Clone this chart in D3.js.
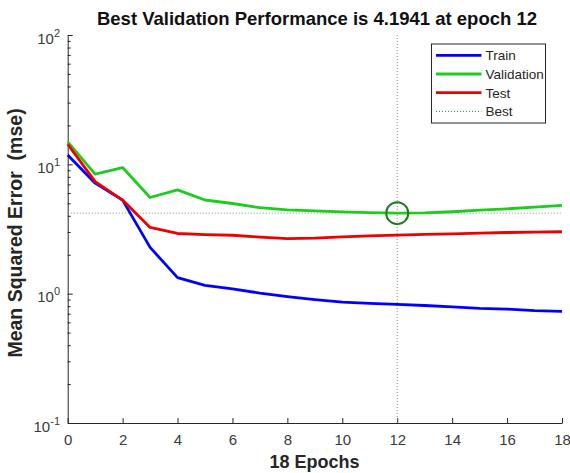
<!DOCTYPE html>
<html>
<head>
<meta charset="utf-8">
<script src="https://cdn.jsdelivr.net/npm/d3@7"></script>
<style>
  body { margin: 0; background: #fff; }
  svg { display: block; font-family: Arial, "Liberation Sans", sans-serif; }
</style>
</head>
<body>
<svg width="570" height="473"></svg>
<script>
// data
var epochs = [0, 1, 2, 3, 4, 5, 6, 7, 8, 9, 10, 11, 12, 13, 14, 15, 16, 17, 18]
var train = [11.8, 7.15, 5.29, 2.28, 1.33, 1.16, 1.09, 1.01, 0.95, 0.90, 0.86, 0.84, 0.826, 0.81, 0.79, 0.77, 0.76, 0.74, 0.73]
var validation = [14.9, 8.39, 9.44, 5.54, 6.35, 5.3, 4.98, 4.62, 4.44, 4.37, 4.29, 4.24, 4.1941, 4.22, 4.30, 4.42, 4.53, 4.67, 4.82]
var test = [14.3, 7.36, 5.29, 3.25, 2.92, 2.86, 2.83, 2.74, 2.66, 2.69, 2.75, 2.80, 2.84, 2.87, 2.90, 2.94, 2.97, 2.99, 3.01]
var bestEpoch = 12
var bestPerf = 4.1941
var xTicks = [0, 2, 4, 6, 8, 10, 12, 14, 16, 18]
var yExps = [-1, 0, 1, 2]
var seriesNames = ['Train', 'Validation', 'Test', 'Best']
var seriesColors = ['#0000ff', '#1ecc1e', '#ee0000', '#2a8a2a']

var svg = d3.select('svg')
var plotL = 67.7, plotR = 562, plotT = 35, plotB = 423
var ink = '#262626'
var tickInk = '#3a3a3a'

var x = d3.scaleLinear().domain([0, 18]).range([plotL, plotR])
var y = d3.scaleLog().domain([0.1, 100]).range([plotB, plotT])

// minor ticks on log axis
var minor = []
yExps.slice(0, 3).forEach(function(e) {
  for (var k = 2; k <= 9; k++) minor.push(k * Math.pow(10, e))
})

svg.append('g')
  .attr('transform', 'translate(' + plotL + ',0)')
  .call(d3.axisLeft(y).tickValues(minor).tickSizeInner(-3).tickSizeOuter(0).tickFormat(''))
  .call(function(g) { g.select('.domain').remove() })
  .selectAll('line').attr('stroke', ink)

var yAxis = svg.append('g')
  .attr('transform', 'translate(' + plotL + ',0)')
  .call(d3.axisLeft(y).tickValues(yExps.map(function(e) { return Math.pow(10, e) }))
    .tickSizeInner(-5).tickSizeOuter(0).tickFormat(''))
yAxis.select('.domain').attr('stroke', ink)
yAxis.selectAll('line').attr('stroke', ink)

// tick labels as 10^n
yExps.forEach(function(e) {
  var t = svg.append('text')
    .attr('x', 60).attr('y', y(Math.pow(10, e)) + 8.5)
    .attr('text-anchor', 'end')
    .attr('fill', tickInk)
    .style('font-size', '15px')
  t.append('tspan').text('10')
  t.append('tspan').attr('dy', -7).style('font-size', '11px').text(e)
})

var xAxis = svg.append('g')
  .attr('transform', 'translate(0,' + plotB + ')')
  .call(d3.axisBottom(x).tickValues(xTicks).tickSizeInner(-5).tickSizeOuter(0).tickPadding(11))
xAxis.select('.domain').attr('stroke', ink)
xAxis.selectAll('line').attr('stroke', ink)
xAxis.selectAll('text').attr('fill', tickInk).style('font-size', '15px').style('font-family', 'Arial, "Liberation Sans", sans-serif')

// best lines
svg.append('line')
  .attr('x1', x(bestEpoch)).attr('x2', x(bestEpoch))
  .attr('y1', plotT).attr('y2', plotB)
  .attr('stroke', '#8a8a8a').attr('stroke-width', 1).attr('stroke-dasharray', '1,2')
svg.append('line')
  .attr('x1', plotL).attr('x2', plotR)
  .attr('y1', y(bestPerf)).attr('y2', y(bestPerf))
  .attr('stroke', '#6a9a6a').attr('stroke-width', 1).attr('stroke-dasharray', '1,2')

var line = d3.line()
  .x(function(d, i) { return x(epochs[i]) })
  .y(function(d) { return y(d) })

;[train, validation, test].forEach(function(s, i) {
  svg.append('path')
    .datum(s)
    .attr('d', line)
    .attr('fill', 'none')
    .attr('stroke', seriesColors[i])
    .attr('stroke-width', 2.8)
    .attr('stroke-linejoin', 'round')
})

svg.append('circle')
  .attr('cx', x(bestEpoch)).attr('cy', y(bestPerf))
  .attr('r', 11)
  .attr('fill', 'none')
  .attr('stroke', '#1f7a1f')
  .attr('stroke-width', 2)

// title and labels
svg.append('text')
  .attr('x', 317).attr('y', 25)
  .attr('text-anchor', 'middle')
  .style('font-size', '18.5px').style('font-weight', 'bold')
  .attr('fill', '#111')
  .text('Best Validation Performance is ' + bestPerf + ' at epoch ' + bestEpoch)

svg.append('text')
  .attr('x', 314.5).attr('y', 468)
  .attr('text-anchor', 'middle')
  .style('font-size', '18px').style('font-weight', 'bold')
  .attr('fill', ink)
  .text(epochs.length - 1 + ' Epochs')

svg.append('text')
  .attr('transform', 'translate(22,233) rotate(-90)')
  .attr('text-anchor', 'middle')
  .style('font-size', '19.5px').style('font-weight', 'bold')
  .style('white-space', 'pre')
  .attr('fill', ink)
  .text('Mean Squared Error  (mse)')

// legend
var lg = svg.append('g')
lg.append('rect')
  .attr('x', 431.5).attr('y', 44).attr('width', 114).attr('height', 79)
  .attr('fill', '#fff').attr('stroke', ink).attr('stroke-width', 1)
seriesNames.forEach(function(name, i) {
  var ry = 55.3 + i * 18.7
  lg.append('line')
    .attr('x1', 436).attr('x2', 481.5).attr('y1', ry).attr('y2', ry)
    .attr('stroke', seriesColors[i])
    .attr('stroke-width', i < 3 ? 2.8 : 1)
    .attr('stroke-dasharray', i < 3 ? null : '1,2')
  lg.append('text')
    .attr('x', 485.5).attr('y', ry + 5)
    .style('font-size', '13.5px')
    .attr('fill', ink)
    .text(name)
})
</script>
</body>
</html>
